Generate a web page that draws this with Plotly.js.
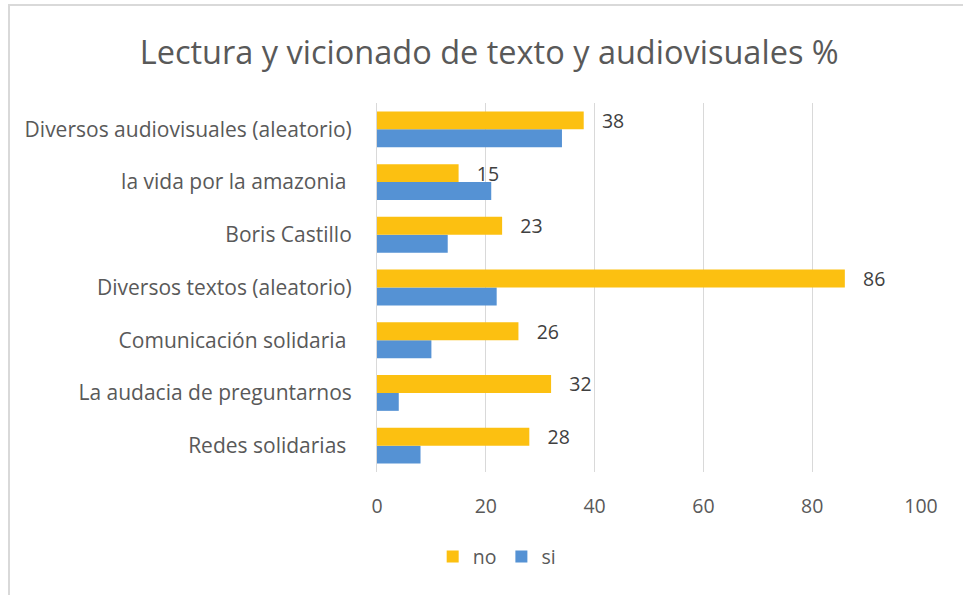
<!DOCTYPE html>
<html>
<head>
<meta charset="utf-8">
<script src="https://cdn.plot.ly/plotly-3.0.1.min.js"></script>
<style>
  html, body { margin: 0; padding: 0; background: #ffffff; }
  #frame { position: absolute; left: 8px; top: 4px; width: 960px; height: 600px;
           border-left: 2px solid #d9d9d9; border-top: 2px solid #d9d9d9; pointer-events: none; }
  #chart { position: absolute; left: 0; top: 0; width: 963px; height: 595px; }
</style>
</head>
<body>
<div id="frame"></div>
<div id="chart"></div>
<script>
// Categories from bottom to top (Plotly places the first category at the bottom)
const categories = [
  "Redes solidarias ",
  "La audacia de preguntarnos",
  "Comunicación solidaria ",
  "Diversos textos (aleatorio)",
  "Boris Castillo",
  "la vida por la amazonia ",
  "Diversos audiovisuales (aleatorio)"
];
const noValues = [28, 32, 26, 86, 23, 15, 38];
const siValues = [8, 4, 10, 22, 13, 21, 34];
const xTicks = [0, 20, 40, 60, 80, 100];

const FONT = "'Open Sans', Lato, sans-serif";
const GREY = "#595959";

const traces = [
  {
    type: "bar", orientation: "h", name: "si",
    y: categories, x: siValues,
    marker: { color: "#5592d4" },
    hoverinfo: "x+name"
  },
  {
    type: "bar", orientation: "h", name: "no",
    y: categories, x: noValues,
    marker: { color: "#fcc011" },
    texttemplate: "   %{x}",
    textposition: "outside",
    constraintext: "none",
    cliponaxis: false,
    textfont: { family: FONT, size: 19.5, color: "#404040" },
    hoverinfo: "x+name"
  }
];

const layout = {
  width: 963, height: 595,
  paper_bgcolor: "rgba(0,0,0,0)",
  plot_bgcolor: "rgba(0,0,0,0)",
  margin: { l: 377, r: 42, t: 103, b: 123, autoexpand: false },
  font: { family: FONT, color: GREY },
  title: {
    text: "Lectura y vicionado de texto y audiovisuales %",
    font: { family: FONT, size: 32.5, color: GREY },
    x: 0.508, xanchor: "center", y: 0.912, yanchor: "middle"
  },
  barmode: "group",
  bargap: 0.32,
  bargroupgap: 0,
  xaxis: {
    range: [0, 100],
    tickvals: xTicks,
    ticktext: xTicks.map(String),
    tickangle: 0,
    automargin: false,
    showgrid: true, gridcolor: "#d9d9d9", gridwidth: 1,
    zeroline: false, showline: false, ticks: "",
    ticklabelstandoff: 20,
    tickfont: { family: FONT, size: 19.5, color: GREY },
    fixedrange: true
  },
  yaxis: {
    type: "category",
    automargin: false,
    showgrid: false, zeroline: false,
    showline: true, linecolor: "#d9d9d9", linewidth: 1,
    ticks: "",
    ticklabelstandoff: 20,
    tickfont: { family: FONT, size: 21, color: GREY },
    fixedrange: true
  },
  showlegend: true,
  legend: {
    orientation: "h", traceorder: "reversed",
    x: 0.22, xanchor: "center",
    y: -0.23, yanchor: "middle",
    font: { family: FONT, size: 19.5, color: GREY }
  }
};

Plotly.newPlot("chart", traces, layout, { displayModeBar: false, staticPlot: true });
</script>
</body>
</html>
